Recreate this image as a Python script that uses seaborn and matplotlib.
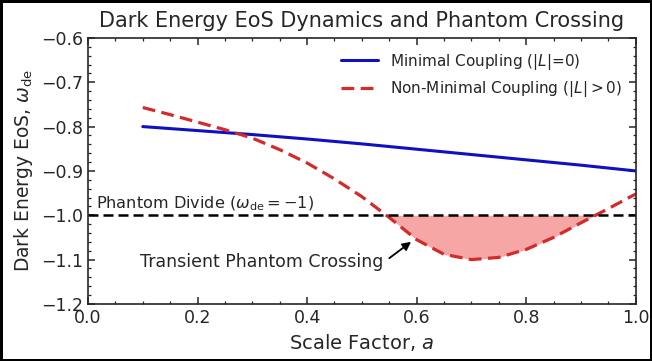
import numpy as np
import pandas as pd
import matplotlib.pyplot as plt
import seaborn as sns

# values
a_minimal = [0.1, 0.2, 0.3, 0.4, 0.5, 0.6, 0.7, 0.8, 0.9, 1.0]
w_minimal = [-0.800, -0.809, -0.818, -0.828, -0.839, -0.851, -0.863, -0.875, -0.887, -0.900]

a_nonmin = [0.10, 0.15, 0.20, 0.25, 0.30, 0.35, 0.40, 0.45, 0.50, 0.55,
            0.60, 0.65, 0.70, 0.75, 0.80, 0.85, 0.90, 0.95, 1.00]
w_nonmin = [-0.757, -0.773, -0.790, -0.807, -0.826, -0.852, -0.882, -0.918, -0.958, -1.005,
            -1.055, -1.088, -1.100, -1.095, -1.077, -1.050, -1.017, -0.985, -0.952]

phantom_divide = -1.0

sns.set_style('ticks')
plt.rcParams['font.family'] = ['DejaVu Sans']
plt.rcParams['mathtext.fontset'] = 'dejavusans'

df_min = pd.DataFrame({'a': a_minimal, 'w': w_minimal})
df_non = pd.DataFrame({'a': a_nonmin, 'w': w_nonmin})

fig = plt.figure(figsize=(6.52, 3.61), dpi=100)
fig.patch.set_edgecolor('black')
fig.patch.set_linewidth(2.5)
ax = fig.add_axes([0.135, 0.158, 0.84, 0.737])

sns.lineplot(data=df_min, x='a', y='w', ax=ax, color='#1010c0', lw=2.2,
             label=r'Minimal Coupling ($|L|$=0)')
sns.lineplot(data=df_non, x='a', y='w', ax=ax, color='#d42a2a', lw=2.3,
             linestyle=(0, (4, 2)), label=r'Non-Minimal Coupling ($|L|>0$)')
ax.axhline(phantom_divide, color='black', lw=1.8, linestyle=(0, (4, 2)))

a_arr = np.array(a_nonmin)
w_arr = np.array(w_nonmin)
ax.fill_between(a_arr, w_arr, phantom_divide, where=w_arr <= phantom_divide,
                interpolate=True, color='#f7a6a6', lw=0, zorder=1)

ax.text(0.015, -0.985, r'Phantom Divide ($\omega_{\rm de}=-1$)', fontsize=11.6)
ax.annotate('Transient Phantom Crossing', xy=(0.592, -1.058), xytext=(0.54, -1.106),
            ha='right', va='center', fontsize=12.5,
            arrowprops=dict(arrowstyle='-|>', color='black', lw=1.3,
                            relpos=(1.0, 0.5), shrinkA=2, shrinkB=1))

ax.set_xlim(0, 1)
ax.set_ylim(-1.2, -0.6)
ax.set_xlabel('Scale Factor, $a$', fontsize=14)
ax.set_ylabel(r'Dark Energy EoS, $\omega_{\rm de}$', fontsize=13.5)
ax.set_title('Dark Energy EoS Dynamics and Phantom Crossing', fontsize=15, pad=8)
ax.minorticks_on()
ax.tick_params(which='both', direction='in', top=True, right=True, labelsize=12.5)
ax.tick_params(which='major', length=5, width=1.1)
ax.tick_params(which='minor', length=2.5, width=0.9)
for s in ax.spines.values():
    s.set_linewidth(1.2)
ax.legend(loc='upper right', frameon=False, fontsize=11.0, handlelength=2.4,
          borderaxespad=0.5)

fig.savefig('out.png', dpi=100)
